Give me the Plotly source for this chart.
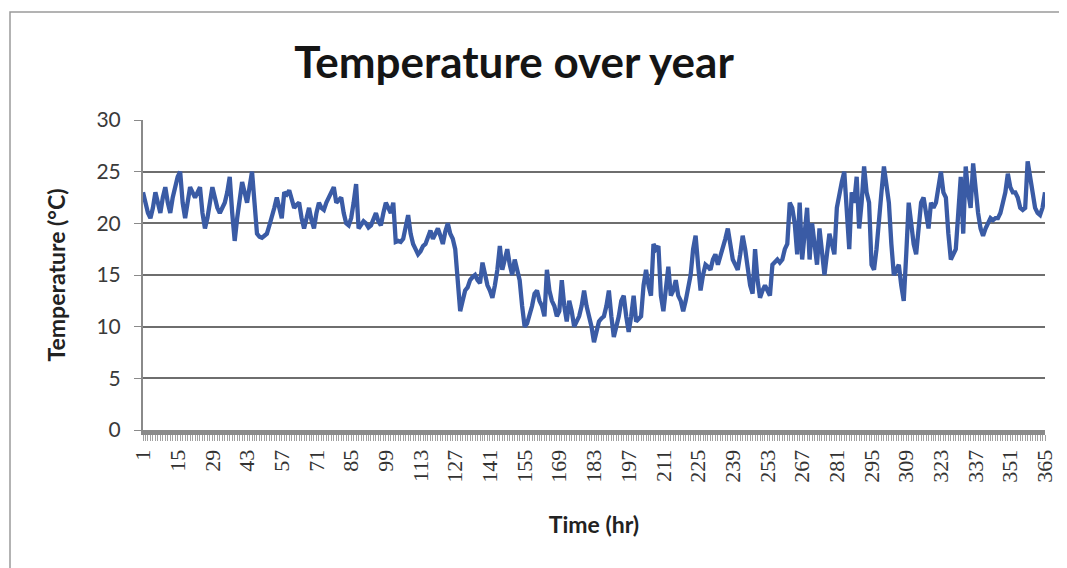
import plotly.graph_objects as go

days = list(range(1, 366))
temperature = [
    23, 22, 21, 20.5, 21.5, 23, 22, 21, 22.5, 23.5,
    22, 21, 22.5, 23.5, 24.5, 25, 22, 20.5, 22, 23.5,
    23, 22.5, 23, 23.5, 21, 19.5, 20.5, 22, 23.5, 22.5,
    21.5, 21, 21.5, 22, 23, 24.5, 21, 18.3, 20.5, 22.5,
    24, 23, 22, 23.5, 25, 22, 19, 18.7, 18.6, 18.8,
    19, 19.8, 20.5, 21.5, 22.5, 21.5, 20.5, 23, 22.8, 23.2,
    22.5, 21.5, 21.8, 22, 20.5, 19.5, 20.5, 21.5, 20.3, 19.5,
    21, 22, 21.5, 21.3, 22, 22.5, 23, 23.5, 22, 22.2,
    22.5, 21, 20, 19.8, 20.5, 22, 23.8, 19.5, 19.8, 20.2,
    20, 19.6, 19.8, 20.5, 21, 20.2, 19.8, 21, 22, 21.5,
    21, 22, 18.2, 18.3, 18.2, 18.5, 19.5, 20.8, 19, 18,
    17.5, 17, 17.3, 17.8, 18, 18.7, 19.3, 18.5, 19, 19.5,
    18.8, 18, 19.2, 20, 19, 18.5, 17.5, 14, 11.5, 12.5,
    13.5, 13.8, 14.5, 14.8, 15, 14.5, 14.2, 16.2, 15, 14,
    13.5, 12.8, 14, 15.5, 17.8, 15.5, 16.5, 17.5, 16, 15,
    16.5, 15.5, 14.5, 12, 10, 10.3, 11, 12, 13.2, 13.5,
    12.5, 12, 11, 15.5, 13.5, 12.5, 12, 11, 11.5, 14.5,
    12, 10.5, 12.5, 11.5, 10, 10.5, 11, 12, 13.5, 12,
    11, 10, 8.5, 9.5, 10.5, 10.8, 11, 12, 13.5, 11,
    9, 10, 11, 12.5, 13, 11, 9.5, 11, 13, 10.5,
    10.8, 11, 14, 15.5, 14, 13, 18, 17.5, 17.8, 13,
    11.5, 14, 15.8, 13, 13.5, 14.5, 13, 12.5, 11.5, 12.5,
    14, 15, 17.5, 18.8, 16, 13.5, 15, 16, 15.8, 15.5,
    16.5, 17, 16, 16.8, 17.5, 18.5, 19.5, 18, 16.5, 16,
    15.5, 17, 18.8, 17.5, 16, 14, 13.2, 17.5, 14.5, 12.8,
    13.5, 14, 13.5, 13, 16, 16.3, 16.5, 16.2, 16.5, 17.5,
    18, 22, 21.5, 20, 17, 22, 16.5, 19, 21.5, 16.5,
    20, 18, 16, 19.5, 17, 15, 17, 19, 18, 17,
    21.5, 23, 24, 25, 21, 17.5, 23, 22, 24.5, 19.5,
    22, 25.5, 23, 22, 16, 15.5, 17.5, 21, 23, 25.5,
    24, 22, 18, 15, 15.5, 16, 14, 12.5, 17, 22,
    20, 18, 17, 19.5, 22, 22.5, 21, 19.5, 22, 21.5,
    22, 23.5, 25, 23, 22.5, 19, 16.5, 17, 17.5, 21,
    24.5, 19, 25.5, 23, 21.5, 25.8, 23, 21, 19.5, 18.8,
    19.5, 20, 20.5, 20.3, 20.5, 20.5, 21, 22, 23, 24.8,
    23.5, 23, 23, 22.5, 21.5, 21.3, 21.5, 26, 24.5, 23,
    21.5, 21, 20.8, 21.5, 23,
]
assert len(temperature) == 365

x_tick_vals = list(range(1, 366, 14))
x_tick_text = [str(v) for v in x_tick_vals]
y_tick_vals = [0, 5, 10, 15, 20, 25, 30]

title_text = "Temperature over year"
x_title = "Time (hr)"
y_title = "Temperature (°C)"

FONT = "Lato"
W, H = 1059, 560
ML, MR, MT, MB = 135, 22, 112, 138
PW, PH = W - ML - MR, H - MT - MB

fig = go.Figure()
fig.add_trace(go.Scatter(
    x=days, y=temperature, mode="lines",
    line=dict(color="#3A5BA5", width=4.3),
    showlegend=False, hoverinfo="x+y",
))

fig.update_layout(
    width=W, height=H,
    paper_bgcolor="white", plot_bgcolor="white",
    margin=dict(l=ML, r=MR, t=MT, b=MB, autoexpand=False),
    title=dict(text="<b>" + title_text + "</b>", x=506 / W, xanchor="center",
               y=1 - 55 / H, yanchor="middle",
               font=dict(family=FONT, size=44, color="#151515")),
    font=dict(family=FONT, color="#333333"),
    xaxis=dict(
        range=[1, 365], tickmode="array", tickvals=x_tick_vals, ticktext=x_tick_text,
        tickangle=-90, tickfont=dict(family="Liberation Serif", size=22, color="#333333"),
        showgrid=False, zeroline=False,
        showline=True, linecolor="#8a8a8a", linewidth=5,
        ticks="outside", ticklen=6, tickcolor="#a0a0a0", tickwidth=1,
        minor=dict(dtick=1, tick0=1, ticks="outside", ticklen=6,
                   tickcolor="#a0a0a0", tickwidth=1, showgrid=False),
        title=dict(text="<b>" + x_title + "</b>",
                   font=dict(size=23, color="#222222"), standoff=37),
    ),
    yaxis=dict(
        range=[0, 30], tickvals=y_tick_vals,
        tickfont=dict(size=21, color="#3a3a3a"),
        showgrid=True, gridcolor="#6e6e6e", gridwidth=1.6,
        zeroline=False, showline=True, linecolor="#8a8a8a", linewidth=2,
        ticks="outside", ticklen=7, tickcolor="#8a8a8a",
        ticklabelstandoff=9,
        title=dict(text="<b>" + y_title + "</b>",
                   font=dict(size=23, color="#222222"), standoff=24),
    ),
)

fig.add_shape(type="rect", xref="paper", yref="paper",
              x0=(2 - ML) / PW, x1=(1054 - ML) / PW,
              y0=-(H - MT - PH + 20) / PH, y1=1 + (MT - 4) / PH,
              line=dict(color="#9a9a9a", width=1.5), fillcolor="rgba(0,0,0,0)",
              layer="below")

fig.write_html("out.html")
